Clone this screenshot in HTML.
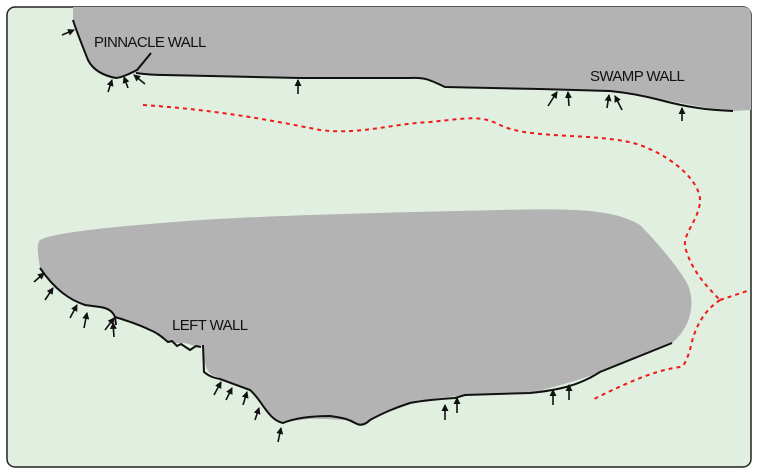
<!DOCTYPE html>
<html><head><style>body{margin:0;background:#fff}svg{display:block}</style></head><body>
<svg width="760" height="474" viewBox="0 0 760 474" xmlns="http://www.w3.org/2000/svg">
<defs><marker id="a" markerWidth="8" markerHeight="8" refX="6" refY="3.5" orient="auto" markerUnits="userSpaceOnUse"><path d="M0,0 L7,3.5 L0,7 z" fill="#111"/></marker></defs>
<rect x="7" y="7" width="744" height="460" rx="8" fill="#e1efe0" stroke="#222" stroke-width="1.5"/>
<path d="M73,7 L743,7 Q751,7 751,15 L751,110 L733,111 C700,108 670,100 650,98 C630,93 610,91 540,89 L445,87 C432,80 428,78 420,78 L300,78 L160,76 L136,73 C125,76 120,78 116,78 C100,75 92,68 88,60 C82,45 76,30 73,20 Z" fill="#b3b3b3"/>
<path d="M73,20 C76,30 82,45 88,60 C92,68 100,75 116,78 C125,77 132,72 137,70 L151,53" fill="none" stroke="#111" stroke-width="2"/>
<path d="M136,73 C150,75 158,75 165,75 L300,78 L410,78 C425,77 430,80 445,87 L540,89 L610,91 C630,93 645,96 660,100 C690,108 710,110 733,111" fill="none" stroke="#111" stroke-width="2"/>
<path d="M40,268 C38,255 36,245 40,240 C55,232 120,226 200,220 C300,214 420,212 500,210 C580,208 615,210 640,225 C660,245 680,270 688,285 C696,305 690,328 672,343 L600,372 C585,378 570,383 530,393 L465,395 C440,398 420,400 410,403 C395,408 385,412 370,420 C362,426 358,426 350,420 C330,420 310,416 283,423 C270,420 262,400 250,390 L220,378 C208,375 204,370 203,345 L195,347 C185,340 175,345 170,342 C160,335 155,332 150,330 C140,325 125,320 115,317 C110,310 105,308 100,307 L85,305 C70,300 55,290 40,268 Z" fill="#b3b3b3"/>
<path d="M40,268 C55,290 70,300 85,305 L100,307 C108,308 113,312 115,317 L116,325 M115,317 C125,320 140,325 150,330 C158,333 163,338 168,342 L172,341 L177,346 L181,344 L190,350 L196,346 L201,347 M203,345 L204,372 C210,377 215,378 220,379 L250,390 C262,400 268,420 283,423 C295,418 310,416 330,416 C345,418 350,420 355,423 C360,426 365,425 370,420 C385,412 395,408 410,403 C425,400 440,399 455,398 L465,395 L530,393 C560,390 580,385 600,372 L672,343" fill="none" stroke="#111" stroke-width="2"/>
<g stroke="#111" stroke-width="1.6" marker-end="url(#a)">
<line x1="62" y1="35" x2="74" y2="30"/><line x1="108" y1="92" x2="112" y2="80"/><line x1="128" y1="88" x2="124" y2="77"/><line x1="145" y1="84" x2="134" y2="75"/><line x1="298" y1="94" x2="298" y2="80"/><line x1="548" y1="106" x2="557" y2="92"/><line x1="569" y1="106" x2="568" y2="92"/><line x1="607" y1="108" x2="609" y2="95"/><line x1="622" y1="110" x2="615" y2="96"/><line x1="682" y1="121" x2="682" y2="108"/>
<line x1="34" y1="282" x2="44" y2="273"/><line x1="45" y1="300" x2="53" y2="288"/><line x1="70" y1="318" x2="77" y2="305"/><line x1="84" y1="328" x2="87" y2="313"/><line x1="105" y1="330" x2="114" y2="318"/><line x1="114" y1="337" x2="113" y2="323"/><line x1="214" y1="395" x2="221" y2="382"/><line x1="226" y1="400" x2="232" y2="388"/><line x1="243" y1="405" x2="247" y2="392"/><line x1="255" y1="420" x2="259" y2="408"/><line x1="278" y1="442" x2="281" y2="428"/><line x1="445" y1="420" x2="445" y2="405"/><line x1="457" y1="413" x2="457" y2="398"/><line x1="553" y1="405" x2="553" y2="390"/><line x1="569" y1="400" x2="569" y2="385"/>
</g>
<g fill="none" stroke="#f01818" stroke-width="2" stroke-dasharray="4,4">
<path d="M143,105 C220,110 280,122 320,130 C360,135 390,124 430,122 C470,118 480,115 500,125 C530,140 600,132 640,145 C680,160 700,185 700,200 C700,220 680,235 686,250 C692,270 705,285 720,300"/>
<path d="M720,300 L750,290"/>
<path d="M720,300 C705,310 695,325 690,350 C686,362 684,366 680,367 C660,370 640,376 592,400"/>
</g>
<g font-family="Liberation Sans, sans-serif" font-size="15" fill="#111">
<text x="94" y="47" letter-spacing="-0.6">PINNACLE WALL</text>
<text x="590" y="81" letter-spacing="-0.6">SWAMP WALL</text>
<text x="172" y="330" letter-spacing="-0.6">LEFT WALL</text>
</g>
</svg>
</body></html>
